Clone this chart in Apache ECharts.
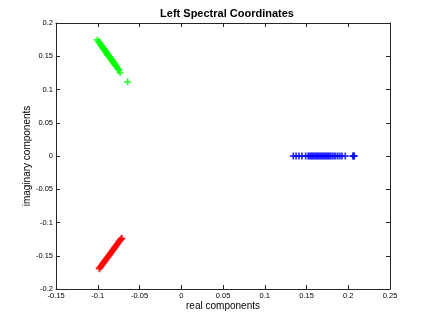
<!DOCTYPE html>
<html>
<head>
<meta charset="utf-8">
<script src="https://cdn.jsdelivr.net/npm/echarts@6/dist/echarts.min.js"></script>
<style>
  html, body { margin: 0; padding: 0; background: #fff; }
  #chartBox { width: 432px; height: 324px; }
</style>
</head>
<body>
<div id="chartBox"></div>
<script>
// data
var titleText = "Left Spectral Coordinates";
var xName = "real components";
var yName = "imaginary components";

var greenPoints = [
  [-0.1005, 0.1745], [-0.0990, 0.1720], [-0.0978, 0.1700], [-0.0965, 0.1675],
  [-0.0958, 0.1662], [-0.0950, 0.1650], [-0.0942, 0.1635], [-0.0935, 0.1622],
  [-0.0928, 0.1610], [-0.0920, 0.1598], [-0.0912, 0.1583], [-0.0905, 0.1570],
  [-0.0898, 0.1558], [-0.0890, 0.1545], [-0.0882, 0.1530], [-0.0875, 0.1518],
  [-0.0868, 0.1505], [-0.0860, 0.1492], [-0.0852, 0.1478], [-0.0845, 0.1465],
  [-0.0838, 0.1452], [-0.0830, 0.1440], [-0.0822, 0.1425], [-0.0815, 0.1412],
  [-0.0806, 0.1398], [-0.0798, 0.1383], [-0.0790, 0.1370], [-0.0780, 0.1352],
  [-0.0770, 0.1335], [-0.0758, 0.1312], [-0.0745, 0.1290], [-0.0733, 0.1255],
  [-0.0642, 0.1115]
];

var redPoints = [
  [-0.0982, -0.1695], [-0.0975, -0.1680], [-0.0965, -0.1665], [-0.0955, -0.1648],
  [-0.0945, -0.1630], [-0.0935, -0.1612], [-0.0925, -0.1595], [-0.0915, -0.1578],
  [-0.0905, -0.1562], [-0.0895, -0.1545], [-0.0885, -0.1528], [-0.0875, -0.1512],
  [-0.0865, -0.1495], [-0.0855, -0.1478], [-0.0845, -0.1460], [-0.0835, -0.1443],
  [-0.0825, -0.1425], [-0.0815, -0.1408], [-0.0805, -0.1392], [-0.0795, -0.1375],
  [-0.0785, -0.1358], [-0.0775, -0.1340], [-0.0765, -0.1322], [-0.0752, -0.1300],
  [-0.0740, -0.1280], [-0.0728, -0.1262], [-0.0718, -0.1245], [-0.0712, -0.1238]
];

var blueX = [
  0.1342, 0.1375, 0.1410, 0.1445, 0.1490, 0.1520, 0.1535, 0.1550, 0.1565,
  0.1580, 0.1595, 0.1610, 0.1625, 0.1640, 0.1655, 0.1670, 0.1685, 0.1700,
  0.1715, 0.1730, 0.1745, 0.1760, 0.1775, 0.1790, 0.1810, 0.1830, 0.1850,
  0.1875, 0.1900, 0.1925, 0.1965, 0.2055, 0.2065, 0.2072
];
var blueY = [
  0, 0, 0, 0, 0, 0, 0, 0, 0, 0, 0, 0, 0, 0, 0, 0, 0,
  0, 0, 0, 0, 0, 0, 0, 0, 0, 0, 0, 0, 0, 0, 0, 0, 0
];

var xMin = -0.15, xMax = 0.25, xStep = 0.05;
var yMin = -0.2, yMax = 0.2, yStep = 0.05;

var bluePoints = blueX.map(function (x, i) { return [x, blueY[i]]; });

var plus = "path://M3,0H5V3H8V5H5V8H3V5H0V3H3Z";
var font = "Liberation Sans, Arial, Helvetica, sans-serif";
var axisColor = "#262626";

function makeAxis(pos, min, max, step, showLabels, extra) {
  var a = {
    type: "value",
    position: pos,
    min: min,
    max: max,
    interval: step,
    splitLine: { show: false },
    axisLine: { show: true, onZero: false, lineStyle: { color: axisColor, width: 1 } },
    axisTick: { show: true, inside: true, length: 4, lineStyle: { color: axisColor } },
    axisLabel: {
      show: showLabels,
      color: "#000",
      fontSize: 7.5,
      fontFamily: font,
      margin: 3
    }
  };
  for (var k in extra) a[k] = extra[k];
  return a;
}

var chart = echarts.init(document.getElementById("chartBox"));
var option = {
  animation: false,
  title: {
    text: titleText,
    left: 222,
    top: 3,
    textAlign: "center",
    textStyle: { fontSize: 11, fontWeight: "bold", color: "#000", fontFamily: font }
  },
  grid: { left: 56, right: 42, top: 23, bottom: 35 },
  xAxis: [
    makeAxis("bottom", xMin, xMax, xStep, true, {
      name: xName,
      nameLocation: "middle",
      nameGap: 12,
      nameMoveOverlap: false,
      nameTextStyle: { fontSize: 10, color: "#000", fontFamily: font, verticalAlign: "top" }
    }),
    makeAxis("top", xMin, xMax, xStep, false, {})
  ],
  yAxis: [
    makeAxis("left", yMin, yMax, yStep, true, {
      name: yName,
      nameLocation: "middle",
      nameGap: 24,
      nameMoveOverlap: false,
      nameTextStyle: { fontSize: 10, color: "#000", fontFamily: font }
    }),
    makeAxis("right", yMin, yMax, yStep, false, {})
  ],
  series: [
    {
      type: "scatter",
      data: greenPoints,
      symbol: plus,
      symbolSize: 7,
      itemStyle: { color: "#00ff00" }
    },
    {
      type: "scatter",
      data: redPoints,
      symbol: plus,
      symbolSize: 7,
      itemStyle: { color: "#ff0000" }
    },
    {
      type: "scatter",
      data: bluePoints,
      symbol: plus,
      symbolSize: 7,
      itemStyle: { color: "#0000ff" }
    }
  ]
};
chart.setOption(option);
</script>
</body>
</html>
